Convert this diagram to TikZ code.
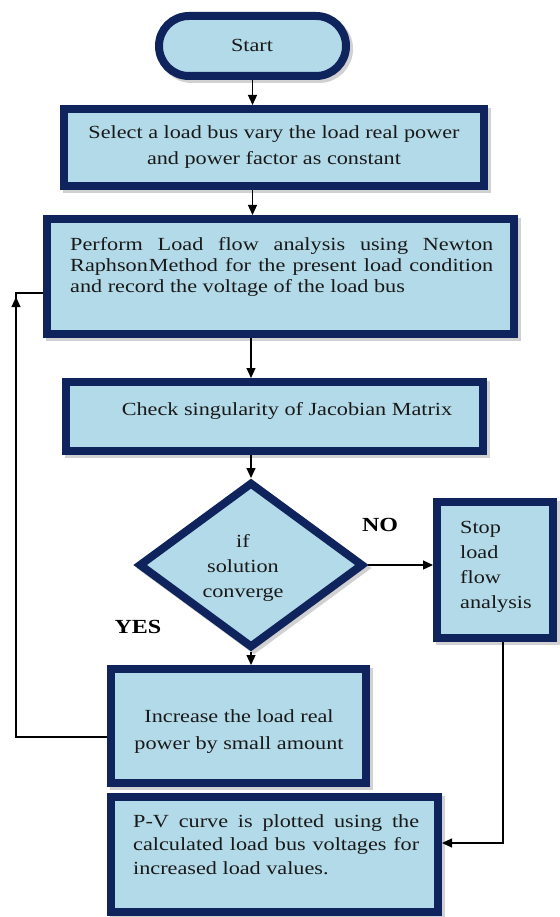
\documentclass[tikz,border=0pt]{standalone}
\usepackage{fontspec}
\setmainfont{Liberation Serif}[FakeStretch=1.2]
\usetikzlibrary{arrows.meta,shadows,calc,shapes.geometric}
\definecolor{boxfill}{HTML}{B3DAE8}
\definecolor{boxline}{HTML}{0F245C}
\hyphenpenalty=10000
\tolerance=9999
\begin{document}
\begin{tikzpicture}[x=1pt,y=-1pt,
  box/.style={draw=boxline, fill=boxfill, line width=8pt, inner sep=0pt,
    drop shadow={shadow xshift=3pt, shadow yshift=-3pt, fill=black!40, draw=black!40, line width=8pt, opacity=0.45}},
  txt/.style={inner sep=0pt, text=black!90, font=\fontsize{18.5}{22}\selectfont},
  lbl/.style={inner sep=0pt, font=\fontsize{20}{24}\selectfont\bfseries},
  arr/.style={draw=black, line width=1.2pt, -{Triangle[length=10pt,width=9pt]}},
  ln/.style={draw=black, line width=1.2pt}]
\fill[white] (0,0) rectangle (559,917);
\useasboundingbox (0,0) rectangle (559,917);

% boxes
\node[box, rounded corners=29.9pt, minimum width=187pt, minimum height=60pt] (start) at (252.5,46) {};
\node[box, minimum width=420pt, minimum height=77pt] (sel) at (274,147.5) {};
\node[box, minimum width=467pt, minimum height=115pt] (perf) at (280.5,276.5) {};
\node[box, minimum width=417pt, minimum height=69pt] (chk) at (274.5,416.5) {};
\node[box, diamond, minimum width=225pt, minimum height=166pt] (dia) at (251,565) {};
\node[box, minimum width=116pt, minimum height=136pt] (stop) at (495,570) {};
\node[box, minimum width=255pt, minimum height=114pt] (inc) at (238.5,726) {};
\node[box, minimum width=327pt, minimum height=115pt] (pv) at (274.5,854.5) {};

% texts (multi-line centred nodes are anchored at the baseline of their last line)
\node[txt, anchor=base] (startt) at (252,52) {Start};
\node[txt, anchor=base, align=center, font=\fontsize{18.5}{26}\selectfont] (selt) at (274,165)
  {Select a load bus vary the load real power\\and power factor as constant};
\node[txt, anchor=base west, text width=423pt, align=justify, font=\fontsize{18.5}{21.5}\selectfont] (perft) at (70,250)
  {Perform Load flow analysis using Newton Raphson\hspace{1pt}Method for the present load condition and record the voltage of the load bus};
\node[txt, anchor=base] (chkt) at (287,415) {Check singularity of Jacobian Matrix};
\node[txt, anchor=base, align=center, font=\fontsize{18.5}{25}\selectfont] (diat) at (243,597) {if\\solution\\converge};
\node[txt, anchor=base west, align=left, font=\fontsize{18.5}{25}\selectfont] (stopt) at (460,608) {Stop\\load\\flow\\analysis};
\node[txt, anchor=base, align=center, font=\fontsize{18.5}{27}\selectfont] (inct) at (239,749) {Increase the load real\\power by small amount};
\node[txt, anchor=base west, text width=286pt, align=justify, font=\fontsize{18.5}{23.5}\selectfont] (pvt) at (133,827)
  {P-V curve is plotted using the calculated load bus voltages for increased load values.};
\node[lbl, anchor=base] (no) at (380,531) {NO};
\node[lbl, anchor=base] (yes) at (138,633) {YES};

% connectors
\coordinate (fbl) at (16,737);
\coordinate (fbt) at (16,293);
\coordinate (sv) at (503,843);
\draw[arr] (start.south) -- (start.south |- sel.north);
\draw[arr] (start.south |- sel.south) -- (start.south |- perf.north);
\draw[arr] (dia.north |- perf.south) -- (dia.north |- chk.north);
\draw[arr] (dia.north |- chk.south) -- (dia.north);
\draw[arr] (dia.south) -- (dia.south |- inc.north);
\draw[arr] (dia.east) -- (dia.east -| stop.west);
\draw[ln] (inc.west |- fbl) -- (fbl) -- (fbt) -- (fbt -| perf.west);
\draw[arr] (fbl) -- ($(fbt)+(0,4)$);
\draw[arr] (stop.south -| sv) -- (sv) -- (sv -| pv.east);
\end{tikzpicture}
\end{document}
